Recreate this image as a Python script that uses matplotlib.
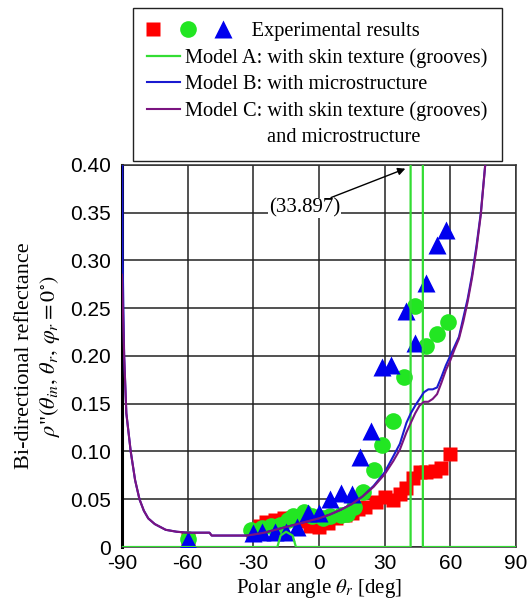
import numpy as np
import matplotlib.pyplot as plt
from matplotlib.lines import Line2D

plt.rcParams['axes.unicode_minus'] = False
plt.rcParams['mathtext.fontset'] = 'stix'

# experimental results (three measurement sets)
red_x = [-60, -30, -27, -24, -20, -16, -12, -8, -4, 0, 4, 8, 12, 15, 18, 21, 26, 30, 34, 37, 40, 43, 46, 49, 53, 56, 60]
red_y = [0.008, 0.016, 0.022, 0.026, 0.028, 0.03, 0.03, 0.027, 0.022, 0.021, 0.025, 0.03, 0.034, 0.036, 0.04, 0.042, 0.047, 0.052, 0.049, 0.055, 0.062, 0.072, 0.078, 0.078, 0.08, 0.083, 0.097]

grn_x = [-60, -31, -26, -22, -18, -14, -12, -7, -3, 2, 5, 10, 13, 16, 20, 25, 29, 34, 39, 44, 49, 54, 59]
grn_y = [0.008, 0.018, 0.02, 0.022, 0.023, 0.028, 0.032, 0.037, 0.032, 0.03, 0.032, 0.033, 0.035, 0.042, 0.058, 0.081, 0.107, 0.132, 0.178, 0.252, 0.21, 0.223, 0.236]

blu_x = [-60, -30, -26, -20, -15, -10, -5, 0, 5, 10, 15, 19, 24, 29, 33, 40, 44, 49, 54, 58]
blu_y = [0.007, 0.015, 0.016, 0.016, 0.016, 0.021, 0.036, 0.036, 0.05, 0.057, 0.055, 0.094, 0.121, 0.188, 0.191, 0.247, 0.213, 0.276, 0.316, 0.332]

# model A: grooves only (peak value 33.897 far off scale)
modA_x = [-90, -19, -17.5, -15, -12, -10.5, 41.9, 42.1, 47.3, 47.5, 90]
modA_y = [0, 0, 0.012, 0.016, 0.012, 0, 0, 33.897, 33.897, 0, 0]

# models B and C
mod_x = [-90, -89.7, -89, -88, -86, -84, -82, -80, -78, -75, -70, -65, -60, -55, -50, -49, -40, -33,
         -30, -25, -20, -15, -10, -5, 0, 5, 10, 15, 20, 25, 30, 34, 37, 40, 42, 44, 46, 48, 50, 52,
         54, 56, 58, 60, 62, 64, 66, 68, 70, 72, 74, 76, 78]
modB_y = [0.6, 0.3, 0.2, 0.14, 0.1, 0.07, 0.05, 0.038, 0.03, 0.024, 0.018, 0.016, 0.015, 0.015, 0.015,
          0.012, 0.012, 0.012, 0.013, 0.015, 0.018, 0.021, 0.024, 0.027, 0.03, 0.034, 0.039, 0.045,
          0.053, 0.064, 0.078, 0.095, 0.108, 0.13, 0.14, 0.148, 0.155, 0.162, 0.165, 0.165, 0.167,
          0.178, 0.19, 0.2, 0.21, 0.22, 0.24, 0.26, 0.285, 0.315, 0.35, 0.4, 0.46]
modC_y = [0.285, 0.26, 0.2, 0.14, 0.1, 0.07, 0.05, 0.038, 0.03, 0.024, 0.018, 0.016, 0.015, 0.015, 0.015,
          0.012, 0.012, 0.012, 0.013, 0.015, 0.018, 0.021, 0.024, 0.027, 0.03, 0.034, 0.039, 0.045,
          0.053, 0.063, 0.076, 0.09, 0.102, 0.12, 0.13, 0.14, 0.148, 0.152, 0.152, 0.155, 0.16,
          0.172, 0.185, 0.195, 0.207, 0.218, 0.236, 0.257, 0.282, 0.312, 0.348, 0.4, 0.46]

xticks = [-90, -60, -30, 0, 30, 60, 90]
yticks = [0, 0.05, 0.10, 0.15, 0.20, 0.25, 0.30, 0.35, 0.40]
ytick_labels = ['0', '0.05', '0.10', '0.15', '0.20', '0.25', '0.30', '0.35', '0.40']

c_red = '#ff0000'
c_grn = '#22e622'
c_blu = '#0000ee'
c_lineA = '#33dd33'
c_lineB = '#1a1ad0'
c_lineC = '#7a1480'

fig = plt.figure(figsize=(5.28, 6.0), dpi=100)
ax = fig.add_axes([0.231, 0.0883, 0.746, 0.637])

sq, = ax.plot(red_x, red_y, 's', color=c_red, ms=10.5, mec='none', zorder=3)
ci, = ax.plot(grn_x, grn_y, 'o', color=c_grn, ms=12, mec='none', zorder=3.1)
tr, = ax.plot(blu_x, blu_y, '^', color=c_blu, ms=12.5, mec='none', zorder=3.2)

la, = ax.plot(modA_x, modA_y, color=c_lineA, lw=1.6, zorder=4)
lb, = ax.plot(mod_x, modB_y, color=c_lineB, lw=1.5, zorder=4.1)
lc, = ax.plot(mod_x, modC_y, color=c_lineC, lw=1.5, zorder=4.2)

ax.set_xlim(-90, 90)
ax.set_ylim(0, 0.40)
ax.set_xticks(xticks)
ax.set_xticklabels([str(v) for v in xticks], fontsize=15, family='Liberation Sans')
ax.set_yticks(yticks)
ax.set_yticklabels(ytick_labels, fontsize=15, family='Liberation Sans')
ax.tick_params(axis='both', length=0)
ax.tick_params(axis='y', pad=8)
ax.tick_params(axis='x', pad=5)
ax.grid(True, color='#222222', lw=1.1)
ax.set_axisbelow(True)
for s in ax.spines.values():
    s.set_color('#333333')
    s.set_linewidth(1.1)
ax.spines['left'].set_color('black')
ax.spines['left'].set_linewidth(2.2)

ax.set_xlabel(r'Polar angle $\theta_r$ [deg]', fontsize=15, family='Liberation Serif', labelpad=3)
ax.set_ylabel('Bi-directional reflectance\n' + r'$\rho$"' + r'$(\theta_{in},\,\theta_r,\,\varphi_r = 0^{\circ})$',
              fontsize=16, family='Liberation Serif', labelpad=6, linespacing=1.2)

ax.annotate('(33.897)', xy=(39.5, 0.396), xytext=(-6.5, 0.355),
            fontsize=15, family='Liberation Serif', ha='center', va='center',
            bbox=dict(fc='white', ec='none', pad=0.5),
            arrowprops=dict(arrowstyle='-|>', color='black', lw=1.0,
                            mutation_scale=11, shrinkA=0, shrinkB=0,
                            connectionstyle='arc3'),
            zorder=5)


class ThreeMarkers:
    def legend_artist(self, legend, orig_handle, fontsize, handlebox):
        xd, yd = handlebox.xdescent, handlebox.ydescent
        w, h = handlebox.width, handlebox.height
        last = None
        for i, src in enumerate(orig_handle):
            m = Line2D([-xd + (0.18 + 1.07 * i) * w], [(h - yd) / 2], linestyle='none',
                       marker=src.get_marker(), markersize=src.get_markersize(),
                       color=src.get_color(), mec='none')
            handlebox.add_artist(m)
            last = m
        return last


blank = Line2D([], [], linestyle='none')
handles = [(sq, ci, tr), la, lb, lc, blank]
labels = [' ' * 13 + 'Experimental results',
          'Model A: with skin texture (grooves)',
          'Model B: with microstructure',
          'Model C: with skin texture (grooves)',
          ' ' * 16 + 'and microstructure']
leg = fig.legend(handles, labels, loc='upper left', bbox_to_anchor=(0.252, 0.987),
                 handler_map={tuple: ThreeMarkers()},
                 prop={'family': 'Liberation Serif', 'size': 14.7},
                 frameon=True, fancybox=False, edgecolor='#222222', framealpha=1,
                 handlelength=1.6, handletextpad=0.25, labelspacing=0.34, borderpad=0.7,
                 borderaxespad=0)
leg.get_frame().set_linewidth(1.0)

fig.savefig('out.png', dpi=100)
